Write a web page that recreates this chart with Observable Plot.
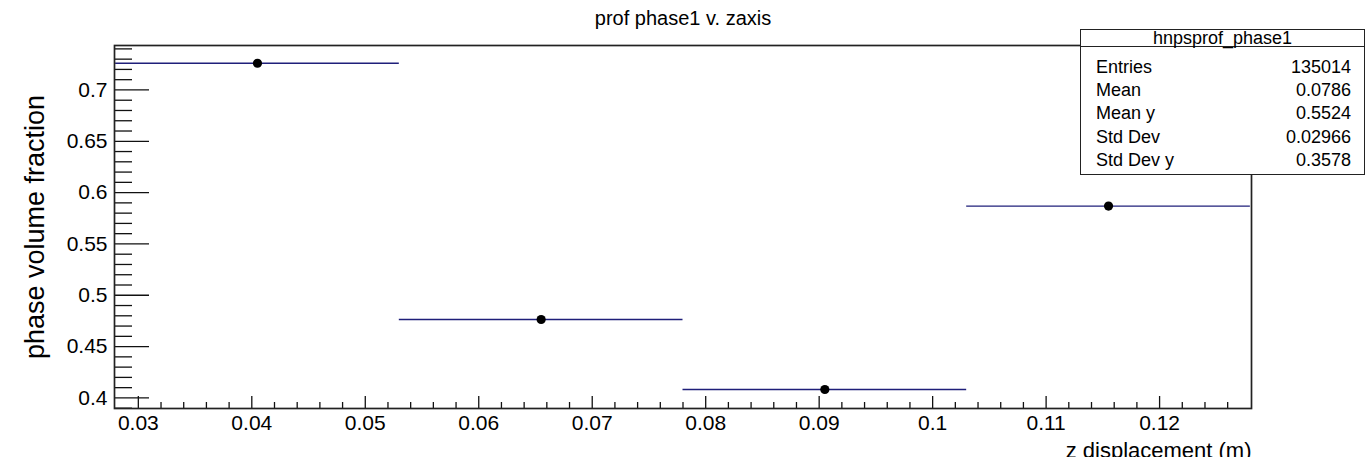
<!DOCTYPE html>
<html>
<head>
<meta charset="utf-8">
<script src="https://cdn.jsdelivr.net/npm/d3@7"></script>
<script src="https://cdn.jsdelivr.net/npm/@observablehq/plot@0.6"></script>
<style>
  html, body { margin: 0; padding: 0; background: #fff; }
  #wrap { position: relative; width: 1367px; height: 457px; font-family: "Liberation Sans", Arial, Helvetica, sans-serif; }
  #wrap svg { display: block; }
  .stats { position: absolute; left: 1080px; top: 29px; width: 283px; height: 144px; border: 1.5px solid #222; background: #fff; box-sizing: content-box; font-size: 18px; color: #000; }
  .stats .hdr { position: absolute; left: 0; top: 0; width: 100%; height: 16px; line-height: 16px; text-align: center; border-bottom: 1.5px solid #222; }
  .stats .row { position: absolute; left: 15px; right: 13px; height: 20px; line-height: 20px; }
  .stats .row .v { position: absolute; right: 0; top: 0; }
</style>
</head>
<body>
<div id="wrap"></div>
<script>
// ---- data ----
const binLow   = [0.028, 0.053, 0.078, 0.103];
const binHigh  = [0.053, 0.078, 0.103, 0.128];
const zCenter  = [0.0405, 0.0655, 0.0905, 0.1155];
const phaseFrac = [0.726, 0.4764, 0.4082, 0.5869];

const xMajorTicks = [0.03, 0.04, 0.05, 0.06, 0.07, 0.08, 0.09, 0.1, 0.11, 0.12];
const xMinorTicks = [0.032, 0.034, 0.036, 0.038, 0.042, 0.044, 0.046, 0.048, 0.052, 0.054, 0.056, 0.058,
  0.062, 0.064, 0.066, 0.068, 0.072, 0.074, 0.076, 0.078, 0.082, 0.084, 0.086, 0.088, 0.092, 0.094, 0.096, 0.098,
  0.102, 0.104, 0.106, 0.108, 0.112, 0.114, 0.116, 0.118, 0.122, 0.124, 0.126];
const yMajorTicks = [0.4, 0.45, 0.5, 0.55, 0.6, 0.65, 0.7];
const yMinorTicks = [0.39, 0.41, 0.42, 0.43, 0.44, 0.46, 0.47, 0.48, 0.49, 0.51, 0.52, 0.53, 0.54,
  0.56, 0.57, 0.58, 0.59, 0.61, 0.62, 0.63, 0.64, 0.66, 0.67, 0.68, 0.69, 0.71, 0.72, 0.73, 0.74];

const statNames  = ["Entries", "Mean", "Mean y", "Std Dev", "Std Dev y"];
const statValues = ["135014", "0.0786", "0.5524", "0.02966", "0.3578"];

const titleText = "prof phase1 v. zaxis";
const statsTitle = "hnpsprof_phase1";
const xLabel = "z displacement (m)";
const yLabel = "phase volume fraction";

// ---- layout ----
const W = 1367, H = 457;
const mL = 114, mR = 116, mT = 45, mB = 49;
const plotW = W - mL - mR, plotH = H - mT - mB;
const font = "Liberation Sans, Arial, Helvetica, sans-serif";

const points = zCenter.map((z, i) => ({z, lo: binLow[i], hi: binHigh[i], v: phaseFrac[i]}));

const chart = Plot.plot({
  width: W, height: H,
  marginLeft: mL, marginRight: mR, marginTop: mT, marginBottom: mB,
  style: {fontFamily: font, background: "#fff", color: "#000", overflow: "visible"},
  x: {domain: [0.0279, 0.1281], axis: null},
  y: {domain: [0.3897, 0.7433], axis: null},
  marks: [
    // error bars (bin width)
    Plot.ruleY(points, {y: "v", x1: "lo", x2: "hi", stroke: "#1f1f7a", strokeWidth: 1.3}),
    Plot.dot(points, {x: "z", y: "v", r: 4.6, fill: "#000", stroke: "none"}),
    // y ticks (inward, left only)
    Plot.tickY(yMajorTicks, {y: d => d, insetRight: plotW - 35, stroke: "#111", strokeWidth: 1.3}),
    Plot.tickY(yMinorTicks, {y: d => d, insetRight: plotW - 18, stroke: "#111", strokeWidth: 1.3}),
    // x ticks (inward, bottom only)
    Plot.tickX(xMajorTicks, {x: d => d, insetTop: plotH - 12, stroke: "#111", strokeWidth: 1.3}),
    Plot.tickX(xMinorTicks, {x: d => d, insetTop: plotH - 6, stroke: "#111", strokeWidth: 1.3}),
    Plot.frame({stroke: "#222", strokeWidth: 1.7}),
    // tick labels
    Plot.axisX(xMajorTicks, {tickSize: 0, tickPadding: 7, fontSize: 21, tickFormat: d => String(d), label: null}),
    Plot.axisY(yMajorTicks, {tickSize: 0, tickPadding: 7, fontSize: 21, tickFormat: d => String(d), label: null}),
    // titles
    Plot.text([titleText], {text: d => d, frameAnchor: "top", lineAnchor: "middle", dy: -27, fontSize: 20, fill: "#000"}),
    Plot.text([xLabel], {text: d => d, frameAnchor: "bottom-right", textAnchor: "end", lineAnchor: "middle", dy: 42, fontSize: 22, fill: "#000"}),
    Plot.text([yLabel], {text: d => d, frameAnchor: "left", textAnchor: "middle", lineAnchor: "middle", rotate: -90, dx: -79, fontSize: 27, fill: "#000"})
  ]
});

const wrap = document.getElementById("wrap");
wrap.appendChild(chart);

// statistics box
const box = document.createElement("div");
box.className = "stats";
const hdr = document.createElement("div");
hdr.className = "hdr";
hdr.textContent = statsTitle;
box.appendChild(hdr);
const rowTops = [27, 50, 73, 97, 120];
statNames.forEach((n, i) => {
  const r = document.createElement("div");
  r.className = "row";
  r.style.top = rowTops[i] + "px";
  const a = document.createElement("span"); a.textContent = n;
  const b = document.createElement("span"); b.className = "v"; b.textContent = statValues[i];
  r.appendChild(a); r.appendChild(b);
  box.appendChild(r);
});
wrap.appendChild(box);
</script>
</body>
</html>
